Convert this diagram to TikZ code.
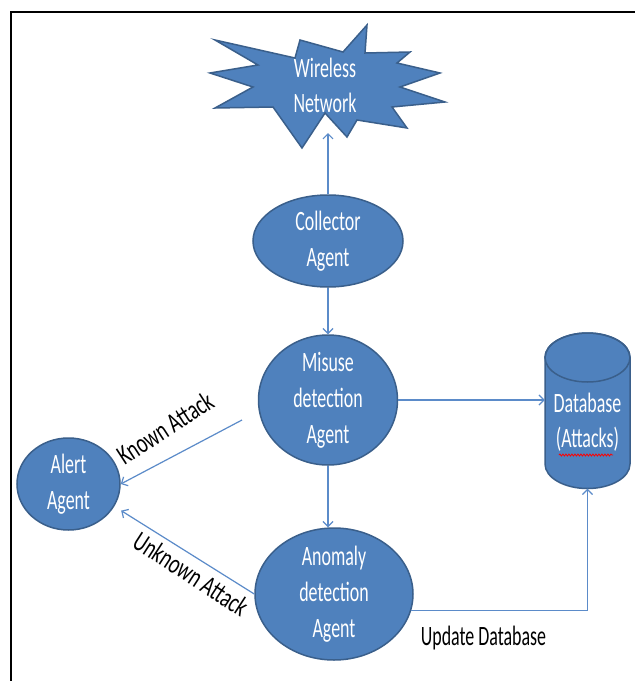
\documentclass[tikz,border=0pt]{standalone}
\usepackage{fontspec}
\newfontfamily\calf[FakeStretch=0.64]{Carlito}
\newfontfamily\calr[FakeStretch=0.70]{Carlito}
\usetikzlibrary{shapes.geometric,arrows.meta,calc,decorations.pathmorphing}
\definecolor{fillblue}{HTML}{4F81BD}
\definecolor{edgeblue}{HTML}{3A5F8B}
\definecolor{linkblue}{HTML}{5B8BC9}
\tikzset{
  agent/.style={ellipse, draw=edgeblue, line width=1.5pt, fill=fillblue, text=white,
    inner xsep=0pt, inner ysep=-12pt, align=center, font=\calf\fontsize{28}{36}\selectfont},
  wtext/.style={text=white, inner sep=0pt, align=center, font=\calf\fontsize{28}{35}\selectfont},
  arr/.style={draw=linkblue, line width=1.2pt, -{Straight Barb[length=5pt,width=10pt]}},
  lbl/.style={font=\calr\fontsize{28}{34}\selectfont, text=black, inner sep=0pt},
  lblh/.style={font=\calf\fontsize{28}{34}\selectfont, text=black, inner sep=0pt},
  shapefill/.style={fill=fillblue, draw=edgeblue, line width=1.5pt, line join=miter},
}
\begin{document}
\begin{tikzpicture}[x=1pt,y=-1pt]
\useasboundingbox (0,0) rectangle (635,681);
\fill[white] (0,0) rectangle (635,681);
% frame
\draw[black, line width=2.5pt] (635,12) -- (11,12) -- (11,681);
% starburst
\path[shapefill] (215,40) -- (258,65) -- (210,73) -- (253,87) -- (215,108) -- (273,107)
  -- (302,148) -- (325,113) -- (347,137) -- (357,120) -- (407,128) -- (392,107)
  -- (445,102) -- (400,87) -- (440,73) -- (397,63) -- (410,52) -- (365,53)
  -- (367,25) -- (343,52) -- (300,40) -- (295,58) -- cycle;
\node[wtext] (wireless) at (325,85) {Wireless\\Network};
% database cylinder
\path[shapefill] (545,357.5) -- (545,464) arc[start angle=180, end angle=360, x radius=42.5pt, y radius=24.5pt]
  -- (630,357.5) arc[start angle=0, end angle=180, x radius=42.5pt, y radius=24.5pt] -- cycle;
\draw[edgeblue, line width=1.5pt] (587.5,357.5) ellipse [x radius=42.5pt, y radius=24.5pt];
\node[minimum width=85pt, minimum height=155.5pt, inner sep=0pt] (db) at (587.5,410.75) {};
\node[wtext] (dbtext) at (587.5,422) {Database\\(Attacks)};
\draw[red, line width=0.8pt, decorate, decoration={snake, amplitude=1pt, segment length=3pt}] (559,455) -- (613,455);
% agents
\node[agent, minimum width=150pt, minimum height=92pt] (collector) at (328,241) {Collector\\Agent};
\node[agent, minimum width=139pt, minimum height=130pt] (misuse) at (328,400) {Misuse\\detection\\Agent};
\node[agent, minimum width=158pt, minimum height=132pt] (anomaly) at (334,594) {Anomaly\\detection\\Agent};
\node[agent, minimum width=103pt, minimum height=92pt] (alert) at (68.5,484) {Alert\\Agent};
% connectors
\coordinate (wnb) at (328,133);
\coordinate (ka) at (242,420);
\draw[arr] (collector.north) -- (wnb);
\draw[arr] (collector.south) -- (misuse.north);
\draw[arr] (misuse.south) -- (misuse.south |- anomaly.north);
\draw[arr] (misuse.east) -- (misuse.east -| db.west);
\draw[arr] (ka) -- (alert.east);
\draw[arr, shorten >=8pt] (anomaly.west) -- (alert.-26);
\draw[arr] (anomaly.-12) -| (db.south);
% labels
\node[lbl, rotate=33] (known) at (165,428) {Known Attack};
\node[lbl, rotate=-33] (unknown) at (191,574) {Unknown Attack};
\node[lblh, anchor=base] (upd) at (483.5,645) {Update Database};
\end{tikzpicture}
\end{document}
